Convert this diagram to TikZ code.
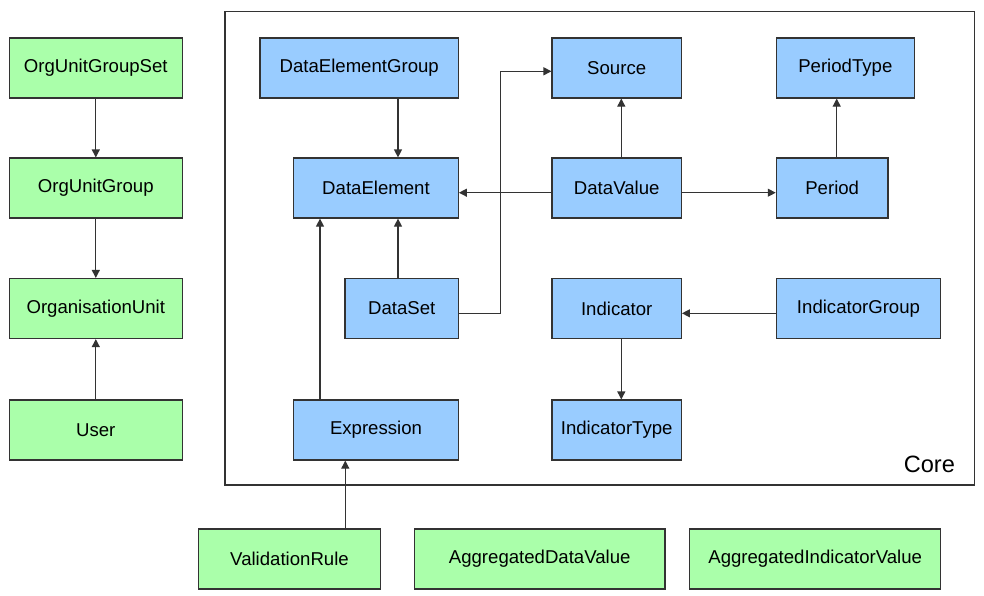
\documentclass[tikz,border=0pt]{standalone}
\usepackage{fontspec}
\setmainfont{Liberation Sans}
\usetikzlibrary{arrows.meta}
\definecolor{gfill}{HTML}{AAFFAA}
\definecolor{bfill}{HTML}{99CCFF}
\definecolor{lcol}{HTML}{333333}
\begin{document}
\begin{tikzpicture}[x=1pt,y=-1pt,
  box/.style={draw=lcol, line width=1.2pt, minimum height=60pt, inner sep=0pt,
    font=\fontsize{18.6}{22}\selectfont, text=black},
  gbox/.style={box, fill=gfill},
  bbox/.style={box, fill=bfill},
  conn/.style={draw=lcol, line width=1.2pt, -{Triangle[length=8pt,width=8pt]}},
  plain/.style={draw=lcol, line width=1.2pt}]
\useasboundingbox (0,0) rectangle (984,595);
\fill[white] (0,0) rectangle (984,595);
% frame
\node[draw=lcol, line width=1.2pt, minimum width=749.7pt, minimum height=473.5pt, inner sep=0pt] (core) at (599.85,248.25) {};
\node[font=\fontsize{23.6}{26}\selectfont, anchor=base east] (corelbl) at (958.5,472) {Core};
% left column
\node[gbox, minimum width=173pt] (ougs) at (95.8,68) {OrgUnitGroupSet};
\node[gbox, minimum width=173pt] (oug) at (95.8,188) {OrgUnitGroup};
\node[gbox, minimum width=173pt] (ou) at (95.8,308.5) {OrganisationUnit};
\node[gbox, minimum width=173pt] (user) at (95.8,430) {User};
% core
\node[bbox, minimum width=198.3pt] (deg) at (359.2,68) {DataElementGroup};
\node[bbox, minimum width=164.6pt] (de) at (376,188) {DataElement};
\node[bbox, minimum width=113.3pt] (ds) at (401.7,308.5) {DataSet};
\node[bbox, minimum width=164.6pt] (expr) at (376,430) {Expression};
\node[bbox, minimum width=129.3pt] (src) at (616.7,68) {Source};
\node[bbox, minimum width=129.3pt] (dv) at (616.7,188) {DataValue};
\node[bbox, minimum width=129.3pt] (ind) at (616.7,308.5) {Indicator};
\node[bbox, minimum width=129.3pt] (indt) at (616.7,430) {IndicatorType};
\node[bbox, minimum width=138pt] (pt) at (845.3,68) {PeriodType};
\node[bbox, minimum width=111.7pt] (per) at (832.2,188) {Period};
\node[bbox, minimum width=164.4pt] (indg) at (858.5,308.5) {IndicatorGroup};
% bottom
\node[gbox, minimum width=181.6pt] (vr) at (289.5,559) {ValidationRule};
\node[gbox, minimum width=250.7pt] (adv) at (539.7,559) {AggregatedDataValue};
\node[gbox, minimum width=251pt] (aiv) at (815.2,559) {AggregatedIndicatorValue};
% routing coordinates
\coordinate (colA) at (398,0);
\coordinate (colB) at (320,0);
\coordinate (colC) at (345.3,0);
\coordinate (colD) at (621.3,0);
\coordinate (colE) at (836.7,0);
\coordinate (colF) at (500.7,0);
\coordinate (rowA) at (0,192.7);
\coordinate (rowB) at (0,313.3);
\coordinate (rowC) at (0,71.3);
% connectors
\draw[conn] (ougs) -- (oug);
\draw[conn] (oug) -- (ou);
\draw[conn] (user) -- (ou);
\draw[conn] (deg.south -| colA) -- (de.north -| colA);
\draw[conn] (ds.north -| colA) -- (de.south -| colA);
\draw[conn] (expr.north -| colB) -- (de.south -| colB);
\draw[conn] (vr.north -| colC) -- (expr.south -| colC);
\draw[conn] (dv.north -| colD) -- (src.south -| colD);
\draw[conn] (ind.south -| colD) -- (indt.north -| colD);
\draw[conn] (per.north -| colE) -- (pt.south -| colE);
\draw[conn] (dv.west |- rowA) -- (de.east |- rowA);
\draw[conn] (dv.east |- rowA) -- (per.west |- rowA);
\draw[conn] (indg.west |- rowB) -- (ind.east |- rowB);
\draw[conn] (ds.east |- rowB) -| (colF |- rowC) -- (src.west |- rowC);
\end{tikzpicture}
\end{document}
